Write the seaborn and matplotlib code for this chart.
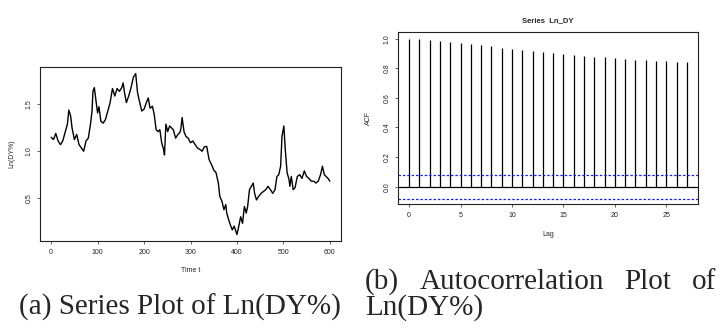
import numpy as np
import pandas as pd
import seaborn as sns
import matplotlib.pyplot as plt

# series
time_t = [0, 5, 10, 15, 20, 25, 30, 35, 38, 42, 45, 50, 55, 60, 65, 70, 75, 80, 85, 88,
          90, 93, 97, 100, 103, 107, 112, 117, 122, 127, 132, 137, 142, 147, 152, 155, 158,
          162, 167, 172, 177, 182, 186, 190, 195, 200, 205, 209, 213, 218, 222, 226, 230,
          234, 238, 242, 244, 247, 251, 255, 259, 263, 268, 273, 277, 279, 282, 286, 290,
          295, 300, 305, 310, 315, 320, 325, 330, 335, 340, 345, 350, 355, 360, 363, 368,
          372, 376, 378, 382, 386, 390, 394, 398, 400, 404, 408, 412, 416, 420, 423, 427,
          431, 435, 438, 442, 447, 452, 457, 462, 467, 472, 477, 482, 486, 490, 494, 497,
          501, 504, 508, 512, 514, 517, 521, 525, 530, 535, 540, 545, 550, 555, 560, 565,
          570, 575, 580, 584, 588, 592, 596, 600]
ln_dy = [1.15, 1.125, 1.19, 1.11, 1.07, 1.11, 1.20, 1.29, 1.44, 1.375, 1.25, 1.125, 1.18,
         1.07, 1.035, 1.00, 1.11, 1.14, 1.30, 1.43, 1.64, 1.68, 1.52, 1.41, 1.475, 1.32,
         1.30, 1.34, 1.43, 1.52, 1.67, 1.59, 1.67, 1.64, 1.68, 1.73, 1.625, 1.52, 1.59,
         1.68, 1.79, 1.83, 1.625, 1.535, 1.43, 1.45, 1.52, 1.57, 1.46, 1.48, 1.39, 1.23,
         1.21, 1.23, 1.09, 1.02, 0.96, 1.29, 1.21, 1.27, 1.25, 1.23, 1.14, 1.18, 1.20, 1.23,
         1.36, 1.21, 1.16, 1.14, 1.09, 1.11, 1.07, 1.035, 1.02, 1.00, 1.05, 1.05, 0.91,
         0.86, 0.80, 0.77, 0.66, 0.52, 0.46, 0.375, 0.43, 0.34, 0.27, 0.21, 0.16, 0.20,
         0.14, 0.11, 0.20, 0.30, 0.23, 0.41, 0.34, 0.41, 0.59, 0.625, 0.66, 0.55, 0.48,
         0.52, 0.55, 0.57, 0.59, 0.625, 0.59, 0.55, 0.59, 0.73, 0.75, 0.84, 1.16, 1.27,
         1.02, 0.77, 0.70, 0.625, 0.73, 0.59, 0.61, 0.73, 0.75, 0.71, 0.79, 0.73, 0.71,
         0.68, 0.68, 0.66, 0.68, 0.75, 0.84, 0.75, 0.73, 0.71, 0.68]

# autocorrelation
lags = list(range(28))
acf_vals = [1.0, 0.995, 0.99, 0.984, 0.978, 0.971, 0.962, 0.955, 0.948, 0.939, 0.933,
            0.926, 0.919, 0.910, 0.903, 0.899, 0.892, 0.885, 0.879, 0.874, 0.867, 0.861,
            0.858, 0.854, 0.849, 0.847, 0.843, 0.840]
conf_bound = 0.082

sns.set_style("ticks")
plt.rcParams['font.family'] = ['Liberation Sans', 'DejaVu Sans']

W, H = 720, 331
fig = plt.figure(figsize=(W / 100, H / 100), dpi=100)
ax1 = fig.add_axes([40 / W, 90 / H, 301 / W, 174 / H])
ax2 = fig.add_axes([398 / W, 127 / H, 300 / W, 172 / H])

small = 5


def r_style(ax):
    for s in ax.spines.values():
        s.set_linewidth(0.8)
        s.set_color("#222222")
    ax.tick_params(length=2.5, width=0.5, labelsize=small, pad=3, colors="#222222")
    for lab in ax.get_yticklabels():
        lab.set_rotation(90)
        lab.set_va("center")


# (a) series plot
series = pd.DataFrame({"t": time_t, "y": ln_dy})
sns.lineplot(data=series, x="t", y="y", ax=ax1, color="black", linewidth=1.0)
ax1.set_xlim(-24, 624)
ax1.set_ylim(0.041, 1.90)
ax1.set_xticks([0, 100, 200, 300, 400, 500, 600])
ax1.set_yticks([0.5, 1.0, 1.5])
ax1.set_xlabel("Time t", fontsize=small, labelpad=8)
ax1.set_ylabel("Ln(DY%)", fontsize=small, labelpad=7)
r_style(ax1)

# (b) autocorrelation plot
ax2.vlines(lags, 0, acf_vals, colors="black", linewidth=0.9)
ax2.axhline(0, color="black", linewidth=0.9)
for b in (conf_bound, -conf_bound):
    ax2.axhline(b, color="#1a1aff", linewidth=0.9, linestyle=(0, (2, 1.5)))
ax2.set_xlim(-1.08, 28.08)
ax2.set_ylim(-0.117, 1.045)
ax2.set_xticks([0, 5, 10, 15, 20, 25])
ax2.set_yticks([0.0, 0.2, 0.4, 0.6, 0.8, 1.0])
ax2.set_xlabel("Lag", fontsize=small, labelpad=9)
ax2.set_ylabel("ACF", fontsize=small, labelpad=8)
ax2.set_title("Series  Ln_DY", fontsize=5.5, fontweight="bold", pad=7)
r_style(ax2)

# captions
cap = dict(fontsize=21, family=['Liberation Serif', 'DejaVu Serif'], va="baseline")
fig.text(19 / W, 1 - 315 / H, "(a) Series Plot of Ln(DY%)", ha="left", **cap)
fig.text(365 / W, 1 - 315 / H, "Ln(DY%)", ha="left", **cap)

# justified first line of caption (b)
words = ["(b)", "Autocorrelation", "Plot", "of"]
x0, x1 = 365, 716
texts = [fig.text(0, 1 - 289 / H, w, ha="left", **cap) for w in words]
fig.canvas.draw()
r = fig.canvas.get_renderer()
widths = [t.get_window_extent(r).width for t in texts]
gap = (x1 - x0 - sum(widths)) / (len(words) - 1)
x = x0
for t, w in zip(texts, widths):
    t.set_x(x / W)
    x += w + gap

fig.savefig("out.png", dpi=100)
